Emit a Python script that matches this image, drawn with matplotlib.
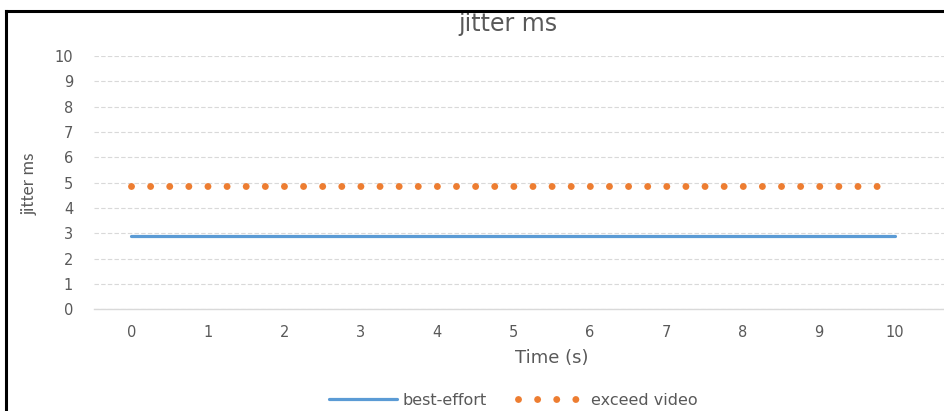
import matplotlib
matplotlib.use("Agg")
import matplotlib.pyplot as plt
from matplotlib.lines import Line2D

time_s = [0, 1, 2, 3, 4, 5, 6, 7, 8, 9, 10]
best_effort = [2.9, 2.9, 2.9, 2.9, 2.9, 2.9, 2.9, 2.9, 2.9, 2.9, 2.9]
exceed_video = [4.87, 4.87, 4.87, 4.87, 4.87, 4.87, 4.87, 4.87, 4.87, 4.87, 4.87]
y_ticks = [0, 1, 2, 3, 4, 5, 6, 7, 8, 9, 10]

BLUE = "#5B9BD5"
ORANGE = "#ED7D31"
TXT = "#595959"
GRID = "#D9D9D9"

plt.rcParams['font.family'] = ['DejaVu Sans']

W, H = 944, 411
fig = plt.figure(figsize=(W / 100, H / 100), dpi=100)
ax = fig.add_axes([94 / W, (H - 309.3) / H, (W - 94) / W, (309.3 - 56) / H])

ax.plot(time_s, best_effort, color=BLUE, lw=2.3, solid_capstyle='round',
        label="best-effort", zorder=3)
dot_lw = 5.0
dot_style = (0, (0.001, 13.76 / dot_lw))
ax.plot(time_s, exceed_video, color=ORANGE, lw=dot_lw,
        linestyle=dot_style, dash_capstyle='round',
        label="exceed video", zorder=3)

ax.set_xlim(-0.49, 10.64)
ax.set_ylim(0, 10)
ax.set_yticks(y_ticks)
ax.set_xticks(time_s)
ax.yaxis.grid(True, color=GRID, linestyle=(0, (4, 2)), lw=0.8)
ax.set_axisbelow(True)
for s in ['top', 'right', 'left']:
    ax.spines[s].set_visible(False)
ax.spines['bottom'].set_color(GRID)
ax.spines['bottom'].set_linewidth(1.0)
ax.tick_params(axis='both', length=0, labelsize=10.5, labelcolor=TXT)
ax.tick_params(axis='y', pad=15)
ax.tick_params(axis='x', pad=11)

fig.text(552 / W, 1 - 358 / H, "Time (s)", ha='center', va='center',
         fontsize=13, color=TXT)
fig.text(30 / W, 1 - 184 / H, "jitter ms", rotation=90, ha='center', va='center',
         fontsize=12.5, color=TXT, family=['Lato', 'DejaVu Sans'])
fig.text(508 / W, 1 - 31 / H, "jitter ms", ha='center', va='baseline',
         fontsize=17, color=TXT, zorder=1)

handles = [
    Line2D([], [], color=BLUE, lw=2.3, solid_capstyle='round'),
    Line2D([], [], color=ORANGE, lw=dot_lw, linestyle=dot_style,
           dash_capstyle='round'),
]
fig.legend(handles, ["best-effort", "exceed video"], loc='center',
           bbox_to_anchor=(513.5 / W, 1 - 400 / H), ncol=2, frameon=False,
           fontsize=11.5, labelcolor=TXT, handlelength=4.2, handletextpad=0.35,
           columnspacing=2.0, borderpad=0.1)

# chart border (top and left visible)
fig.add_artist(Line2D([6 / W, 6 / W], [0, 1 - 11 / H], color='black', lw=2.2,
                      transform=fig.transFigure, solid_capstyle='projecting',
                      zorder=10))
fig.add_artist(Line2D([6 / W, 1], [1 - 11 / H, 1 - 11 / H], color='black', lw=2.2,
                      transform=fig.transFigure, solid_capstyle='projecting',
                      zorder=10))

fig.savefig("out.png", dpi=100)
